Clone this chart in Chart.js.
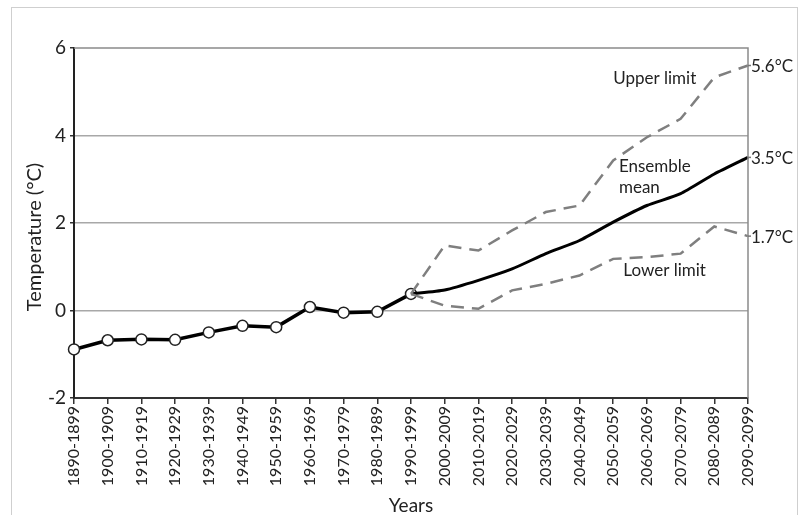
<!DOCTYPE html>
<html>
<head>
<meta charset="utf-8">
<script src="https://cdn.jsdelivr.net/npm/chart.js@4.4.1/dist/chart.umd.min.js"></script>
<style>
  html, body { margin: 0; padding: 0; background: #fff; }
  #wrap { position: relative; width: 803px; height: 515px; overflow: hidden; }
  #frame { position: absolute; left: 11px; top: 7px; width: 785px; height: 600px; border: 1.5px solid #cfcfcf; }
  canvas { position: absolute; left: 0; top: 0; }
</style>
</head>
<body>
<div id="wrap">
  <div id="frame"></div>
  <canvas id="myChart" width="803" height="515"></canvas>
</div>
<script>
// Chart data
const yearLabels = ['1890-1899', '1900-1909', '1910-1919', '1920-1929', '1930-1939', '1940-1949',
    '1950-1959', '1960-1969', '1970-1979', '1980-1989', '1990-1999', '2000-2009', '2010-2019',
    '2020-2029', '2030-2039', '2040-2049', '2050-2059', '2060-2069', '2070-2079', '2080-2089', '2090-2099'];
const meanHistory = [-0.89, -0.68, -0.66, -0.67, -0.50, -0.35, -0.38, 0.08, -0.05, -0.03, 0.38,
    null, null, null, null, null, null, null, null, null, null];
const meanProjection = [null, null, null, null, null, null, null, null, null, null, 0.38,
    0.47, 0.69, 0.95, 1.30, 1.60, 2.02, 2.40, 2.67, 3.12, 3.50];
const upperLimit = [null, null, null, null, null, null, null, null, null, null, 0.38,
    1.49, 1.37, 1.83, 2.25, 2.40, 3.43, 3.96, 4.38, 5.33, 5.60];
const lowerLimit = [null, null, null, null, null, null, null, null, null, null, 0.38,
    0.11, 0.04, 0.46, 0.61, 0.80, 1.18, 1.22, 1.30, 1.92, 1.70];
const endLabels = ['5.6°C', '3.5°C', '1.7°C'];
const yTicks = [-2, 0, 2, 4, 6];

// text notes placed in data space (category index, value)
const notes = [
    { text: 'Upper limit', at: 16.0, value: 5.3 },
    { text: 'Ensemble', at: 16.17, value: 3.29 },
    { text: 'mean', at: 16.17, value: 2.81 },
    { text: 'Lower limit', at: 16.3, value: 0.91 }
];

const FONT = 'Lato, "Open Sans", sans-serif';
const INK = '#222';

// frame lines, end labels, notes, y title
const extras = {
    id: 'extras',
    afterDatasetsDraw(chart) {
        const { ctx, chartArea: a, scales: { x, y } } = chart;
        ctx.save();
        // top + right border of plot
        ctx.strokeStyle = '#8a8a8a';
        ctx.lineWidth = 1.5;
        ctx.beginPath();
        ctx.moveTo(a.left, a.top);
        ctx.lineTo(a.right, a.top);
        ctx.lineTo(a.right, a.bottom);
        ctx.stroke();

        // end value labels
        const last = yearLabels.length - 1;
        const ends = [upperLimit[last], meanProjection[last], lowerLimit[last]];
        ctx.font = '17px ' + FONT;
        ctx.fillStyle = INK;
        ctx.textBaseline = 'middle';
        ctx.textAlign = 'left';
        ends.forEach((v, i) => {
            const py = y.getPixelForValue(v);
            ctx.strokeStyle = '#777';
            ctx.beginPath();
            ctx.moveTo(a.right, py);
            ctx.lineTo(a.right + 3, py);
            ctx.stroke();
            ctx.fillText(endLabels[i], a.right + 3, py + 1);
        });

        // notes
        notes.forEach(n => {
            ctx.fillText(n.text, x.getPixelForValue(n.at), y.getPixelForValue(n.value));
        });

        // y axis title
        ctx.translate(35, 237);
        ctx.rotate(-Math.PI / 2);
        ctx.textAlign = 'center';
        ctx.font = '20px ' + FONT;
        ctx.fillText('Temperature (°C)', 0, 0);
        ctx.restore();
    }
};

const ctx = document.getElementById('myChart').getContext('2d');
new Chart(ctx, {
    type: 'line',
    data: {
        labels: yearLabels,
        datasets: [{
            label: 'Upper limit',
            data: upperLimit,
            borderColor: '#7f7f7f',
            borderWidth: 2.5,
            borderDash: [13, 8],
            pointRadius: 0,
            tension: 0
        }, {
            label: 'Lower limit',
            data: lowerLimit,
            borderColor: '#7f7f7f',
            borderWidth: 2.5,
            borderDash: [13, 8],
            pointRadius: 0,
            tension: 0
        }, {
            label: 'Ensemble mean',
            data: meanProjection,
            borderColor: '#000',
            borderWidth: 3,
            pointRadius: 0,
            tension: 0.2
        }, {
            label: 'Observed',
            data: meanHistory,
            borderColor: '#000',
            borderWidth: 3.5,
            pointRadius: 5.5,
            pointBackgroundColor: '#fff',
            pointBorderColor: '#222',
            pointBorderWidth: 1.5,
            tension: 0
        }]
    },
    options: {
        responsive: false,
        animation: false,
        layout: { padding: { left: 14, top: 48, right: 55, bottom: 0 } },
        plugins: {
            legend: { display: false },
            tooltip: { enabled: false }
        },
        scales: {
            x: {
                offset: false,
                afterFit: s => { s.height = 117; },
                grid: { drawOnChartArea: false, tickLength: 6, tickColor: '#333', lineWidth: 1.5 },
                border: { color: '#333', width: 2 },
                ticks: {
                    color: INK,
                    font: { family: FONT, size: 16 },
                    minRotation: 90,
                    maxRotation: 90,
                    autoSkip: false,
                    padding: 2
                },
                title: {
                    display: true,
                    text: 'Years',
                    color: INK,
                    font: { family: FONT, size: 19, lineHeight: 1 },
                    padding: { top: 0, bottom: 0 }
                }
            },
            y: {
                min: -2,
                max: 6,
                afterFit: s => { s.width = 60; },
                afterBuildTicks: s => { s.ticks = yTicks.map(v => ({ value: v })); },
                grid: {
                    color: c => (c.tick && (c.tick.value === -2 || c.tick.value === 6)) ? 'rgba(0,0,0,0)' : '#a8a8a8',
                    tickColor: '#333',
                    tickLength: 4,
                    lineWidth: 1.5
                },
                border: { color: '#222', width: 2 },
                ticks: {
                    color: INK,
                    font: { family: FONT, size: 19 },
                    padding: 4
                }
            }
        }
    },
    plugins: [extras]
});
</script>
</body>
</html>
